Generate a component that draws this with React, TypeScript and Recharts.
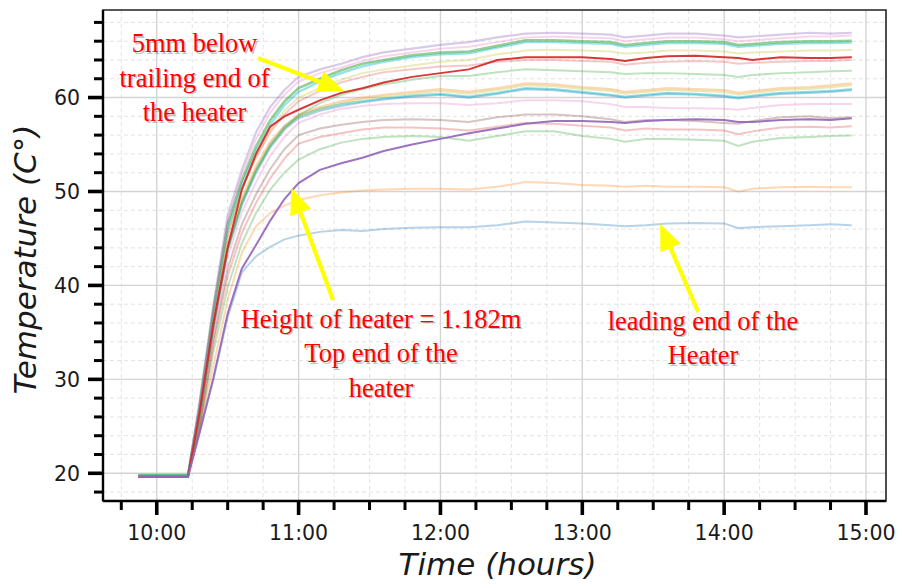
import React from 'react';
import { LineChart, Line, XAxis, YAxis, CartesianGrid, ReferenceLine, ReferenceDot, ReferenceArea } from 'recharts';

// time in decimal hours
const times = [9.87, 10.22, 10.3, 10.4, 10.5, 10.6, 10.7, 10.8, 10.9, 11.0, 11.15, 11.3, 11.45, 11.6, 11.8, 12.0, 12.2, 12.4, 12.6, 12.8, 13.0, 13.2, 13.3, 13.45, 13.6, 13.8, 14.0, 14.1, 14.2, 14.4, 14.6, 14.75, 14.9];

const s01Blue = [19.7, 19.7, 24.2, 30.0, 36.6, 41.4, 43.1, 44.1, 44.9, 45.3, 45.7, 45.9, 45.8, 46.0, 46.15, 46.2, 46.2, 46.4, 46.8, 46.7, 46.6, 46.4, 46.3, 46.4, 46.6, 46.65, 46.6, 46.1, 46.2, 46.3, 46.4, 46.5, 46.4];
const s02Orange = [19.7, 19.7, 24.6, 31.5, 38.5, 43.5, 46.3, 47.7, 48.5, 49.1, 49.6, 49.9, 50.1, 50.2, 50.3, 50.3, 50.2, 50.5, 51.0, 50.9, 50.7, 50.6, 50.5, 50.6, 50.5, 50.5, 50.45, 49.98, 50.3, 50.45, 50.5, 50.45, 50.45];
const s04Green = [19.7, 19.7, 24.5, 33.0, 39.8, 44.5, 47.7, 50.2, 52.0, 53.4, 54.5, 55.2, 55.6, 55.8, 55.9, 55.8, 55.4, 55.9, 56.4, 56.4, 55.9, 55.6, 55.3, 55.6, 55.6, 55.5, 55.4, 54.85, 55.3, 55.7, 55.8, 55.9, 55.95];
const s05Red = [19.7, 19.7, 24.8, 33.8, 41.0, 45.6, 48.8, 51.4, 53.5, 55.1, 55.8, 56.2, 56.6, 56.8, 56.8, 56.7, 56.5, 56.9, 57.3, 57.2, 57.0, 56.8, 56.5, 56.7, 56.6, 56.6, 56.5, 56.1, 56.4, 56.8, 56.9, 56.8, 56.95];
const s06Brown = [19.7, 19.7, 25.0, 34.3, 41.8, 46.5, 49.7, 52.4, 54.5, 56.0, 56.7, 57.1, 57.4, 57.6, 57.7, 57.6, 57.4, 57.9, 58.2, 58.2, 58.0, 57.7, 57.4, 57.6, 57.6, 57.5, 57.3, 57.2, 57.5, 57.9, 58.0, 57.8, 57.9];
const s07Pink = [19.7, 19.7, 25.5, 35.0, 43.0, 47.8, 51.0, 53.8, 55.8, 57.3, 58.2, 58.8, 59.1, 59.3, 59.4, 59.4, 59.2, 59.4, 59.7, 59.7, 59.6, 59.3, 59.0, 59.0, 58.9, 58.85, 58.8, 58.7, 58.9, 59.2, 59.3, 59.3, 59.3];
const s08Blue = [19.7, 19.7, 25.9, 35.6, 43.8, 48.6, 52.0, 54.7, 56.6, 57.8, 58.6, 59.1, 59.5, 59.8, 60.1, 60.3, 60.0, 60.4, 60.9, 60.8, 60.5, 60.2, 60.0, 60.2, 60.4, 60.3, 60.1, 59.9, 60.1, 60.4, 60.5, 60.6, 60.8];
const s09Cyan = [19.8, 19.8, 26.0, 35.8, 44.0, 48.8, 52.3, 55.0, 56.9, 58.0, 58.8, 59.3, 59.6, 59.9, 60.2, 60.4, 60.1, 60.5, 61.0, 60.9, 60.6, 60.3, 60.1, 60.3, 60.5, 60.4, 60.2, 60.0, 60.2, 60.5, 60.6, 60.7, 60.9];
const s10Orange = [19.7, 19.7, 26.2, 36.2, 44.5, 49.3, 52.7, 55.3, 57.0, 58.2, 59.0, 59.6, 60.0, 60.3, 60.6, 60.9, 60.6, 61.0, 61.5, 61.4, 61.1, 60.9, 60.6, 60.8, 61.0, 60.9, 60.8, 60.5, 60.7, 61.0, 61.1, 61.3, 61.5];
const s11Olive = [19.7, 19.7, 26.0, 36.0, 44.2, 49.0, 52.4, 55.0, 56.8, 58.0, 58.8, 59.4, 59.8, 60.1, 60.4, 60.7, 60.4, 60.8, 61.3, 61.2, 60.9, 60.7, 60.4, 60.6, 60.8, 60.7, 60.6, 60.3, 60.5, 60.8, 60.9, 61.1, 61.3];
const s12Green = [19.7, 19.7, 25.8, 35.5, 43.8, 48.8, 52.2, 54.8, 56.7, 58.1, 59.4, 60.3, 60.9, 61.4, 61.9, 62.3, 62.3, 62.7, 63.0, 62.9, 62.8, 62.7, 62.5, 62.6, 62.6, 62.5, 62.4, 62.2, 62.4, 62.6, 62.7, 62.8, 62.85];
const s13Salmon = [19.7, 19.7, 26.5, 36.5, 45.3, 50.3, 53.6, 56.3, 58.2, 59.6, 60.7, 61.6, 62.2, 62.7, 63.0, 63.3, 63.4, 63.8, 64.0, 64.0, 63.9, 63.8, 63.5, 63.7, 63.8, 63.9, 63.8, 63.6, 63.7, 63.8, 63.9, 63.9, 64.0];
const s15Olive = [19.7, 19.7, 26.5, 36.8, 45.5, 50.3, 53.8, 56.5, 58.6, 60.0, 61.0, 61.9, 62.6, 63.0, 63.4, 63.8, 64.0, 64.6, 65.0, 65.1, 65.0, 64.9, 64.7, 64.8, 65.0, 65.0, 64.9, 64.7, 64.8, 64.9, 65.0, 65.0, 65.05];
const s16Cyan = [19.7, 19.7, 26.8, 37.2, 46.0, 50.8, 54.3, 57.1, 59.2, 60.6, 61.7, 62.6, 63.3, 63.8, 64.3, 64.6, 64.7, 65.3, 65.9, 65.9, 65.8, 65.7, 65.4, 65.6, 65.8, 65.8, 65.7, 65.4, 65.5, 65.7, 65.8, 65.8, 65.85];
const s17Green = [19.8, 19.8, 27.0, 37.5, 46.5, 51.2, 54.8, 57.6, 59.6, 61.0, 62.0, 62.9, 63.6, 64.0, 64.5, 64.8, 64.9, 65.5, 66.1, 66.1, 66.0, 65.9, 65.6, 65.8, 66.0, 66.0, 65.9, 65.6, 65.7, 65.9, 66.0, 66.0, 66.05];
const s18Pink = [19.7, 19.7, 27.0, 37.3, 46.8, 51.8, 55.6, 58.4, 60.3, 61.7, 62.6, 63.2, 63.9, 64.4, 64.8, 65.2, 65.4, 65.9, 66.4, 66.5, 66.4, 66.3, 66.0, 66.2, 66.4, 66.4, 66.2, 66.0, 66.1, 66.3, 66.5, 66.5, 66.6];
const s19Purple = [19.7, 19.7, 27.5, 38.0, 47.5, 52.3, 56.3, 59.0, 60.8, 62.2, 63.0, 63.6, 64.3, 64.8, 65.2, 65.6, 65.9, 66.4, 66.8, 66.9, 66.8, 66.7, 66.4, 66.6, 66.8, 66.8, 66.6, 66.4, 66.5, 66.7, 66.9, 66.8, 66.9];
// highlighted: trailing end (red) and top end (purple)
const s14RedBold = [19.6, 19.6, 26.3, 36.0, 44.0, 50.2, 54.0, 56.9, 58.0, 58.7, 59.7, 60.5, 61.0, 61.6, 62.2, 62.6, 63.0, 64.0, 64.3, 64.3, 64.3, 64.1, 63.9, 64.2, 64.4, 64.45, 64.3, 64.2, 64.0, 64.3, 64.2, 64.2, 64.3];
const s03PurpleBold = [19.6, 19.6, 24.2, 30.2, 37.0, 41.8, 44.3, 46.9, 49.2, 50.9, 52.3, 53.0, 53.6, 54.3, 55.0, 55.6, 56.2, 56.7, 57.2, 57.5, 57.5, 57.4, 57.3, 57.5, 57.6, 57.7, 57.6, 57.4, 57.4, 57.6, 57.7, 57.6, 57.8];

const xTicks = [9.75, 10, 10.25, 10.5, 10.75, 11, 11.25, 11.5, 11.75, 12, 12.25, 12.5, 12.75, 13, 13.25, 13.5, 13.75, 14, 14.25, 14.5, 14.75, 15];
const yTicks = [18, 20, 22, 24, 26, 28, 30, 32, 34, 36, 38, 40, 42, 44, 46, 48, 50, 52, 54, 56, 58, 60, 62, 64, 66, 68];
const xMajor = [10, 11, 12, 13, 14, 15];
const yMajor = [20, 30, 40, 50, 60];
const xMinor = xTicks.filter((v) => !xMajor.includes(v));
const yMinor = yTicks.filter((v) => !yMajor.includes(v));

const xDomain = [9.621, 15.141];
const yDomain = [17.05, 69.32];

const series = [
  { key: 's01', values: s01Blue, color: '#1f77b4', op: 0.32, w: 2 },
  { key: 's02', values: s02Orange, color: '#ff7f0e', op: 0.3, w: 2 },
  { key: 's04', values: s04Green, color: '#2ca02c', op: 0.3, w: 2 },
  { key: 's05', values: s05Red, color: '#d62728', op: 0.28, w: 2 },
  { key: 's06', values: s06Brown, color: '#8c564b', op: 0.35, w: 2 },
  { key: 's07', values: s07Pink, color: '#e377c2', op: 0.3, w: 2 },
  { key: 's08', values: s08Blue, color: '#1f77b4', op: 0.35, w: 2.2 },
  { key: 's09', values: s09Cyan, color: '#17becf', op: 0.45, w: 2.2 },
  { key: 's10', values: s10Orange, color: '#ff7f0e', op: 0.32, w: 2.2 },
  { key: 's11', values: s11Olive, color: '#bcbd22', op: 0.32, w: 2 },
  { key: 's12', values: s12Green, color: '#2ca02c', op: 0.3, w: 2 },
  { key: 's13', values: s13Salmon, color: '#d62728', op: 0.25, w: 2 },
  { key: 's15', values: s15Olive, color: '#bcbd22', op: 0.3, w: 2 },
  { key: 's16', values: s16Cyan, color: '#17becf', op: 0.45, w: 2.2 },
  { key: 's17', values: s17Green, color: '#2ca02c', op: 0.5, w: 2.6 },
  { key: 's18', values: s18Pink, color: '#e377c2', op: 0.3, w: 2 },
  { key: 's19', values: s19Purple, color: '#9467bd', op: 0.35, w: 2.2 },
  { key: 's14', values: s14RedBold, color: '#d62728', op: 0.92, w: 2 },
  { key: 's03', values: s03PurpleBold, color: '#9467bd', op: 0.92, w: 2 },
];

const data = times.map((t, i) => {
  const row: Record<string, number> = { t };
  series.forEach((s) => {
    row[s.key] = s.values[i];
  });
  return row;
});

const tickFont = '"DejaVu Sans", Verdana, sans-serif';
const serifFont = '"Liberation Serif", "Times New Roman", serif';

const XTick = (props: any) => {
  const { x, y, payload } = props;
  const v = payload.value;
  const major = Math.abs(v - Math.round(v)) < 1e-6;
  return (
    <g>
      <line x1={x} y1={y} x2={x} y2={y + (major ? 14 : 9)} stroke="#000" strokeWidth={major ? 3.6 : 3} />
      {major && (
        <text x={x} y={y + 39} textAnchor="middle" fontSize={20.5} fontFamily={tickFont} fill="#1a1a1a">
          {`${Math.round(v)}:00`}
        </text>
      )}
    </g>
  );
};

const YTick = (props: any) => {
  const { x, y, payload } = props;
  const v = payload.value;
  const major = v % 10 === 0;
  return (
    <g>
      <line x1={x - (major ? 15 : 9)} y1={y} x2={x} y2={y} stroke="#000" strokeWidth={major ? 3.6 : 3} />
      {major && (
        <text x={x - 23} y={y + 7.5} textAnchor="end" fontSize={20.5} fontFamily={tickFont} fill="#1a1a1a">
          {String(v)}
        </text>
      )}
    </g>
  );
};

const Arrow = (p: any) => {
  const { x1, y1, x2, y2 } = p;
  const dx = x2 - x1;
  const dy = y2 - y1;
  const L = Math.hypot(dx, dy) || 1;
  const ux = dx / L;
  const uy = dy / L;
  const hl = 26;
  const hw = 11;
  const bx = x2 - ux * hl;
  const by = y2 - uy * hl;
  return (
    <g>
      <line x1={x1} y1={y1} x2={bx + ux * 2} y2={by + uy * 2} stroke="#ffff00" strokeWidth={4.2} />
      <polygon
        points={`${x2},${y2} ${bx - uy * hw},${by + ux * hw} ${bx + uy * hw},${by - ux * hw}`}
        fill="#ffff00"
      />
    </g>
  );
};

const makeNote = (lines: string[]) => (p: any) => {
  const { cx, cy } = p;
  return (
    <g>
      {lines.map((l, i) => (
        <g key={i}>
          <text x={cx + 1.5} y={cy + i * 34.5 + 1.5} textAnchor="middle" fontSize={26.5} fontFamily={serifFont} fill="#7a7a7a" fillOpacity={0.45}>
            {l}
          </text>
          <text x={cx} y={cy + i * 34.5} textAnchor="middle" fontSize={26.5} fontFamily={serifFont} fill="#ff0000">
            {l}
          </text>
        </g>
      ))}
    </g>
  );
};

const note1 = ['5mm below', 'trailing end of', 'the heater'];
const note2 = ['Height of heater = 1.182m', 'Top end of the', 'heater'];
const note3 = ['leading end of the', 'Heater'];

export default function App() {
  return (
    <div style={{ position: 'absolute', left: 0, top: 0, width: 902, height: 588, background: '#fff' }}>
      <LineChart width={902} height={588} data={data} margin={{ top: 10, right: 16, bottom: 0, left: 0 }}>
        <CartesianGrid
          verticalValues={xMinor}
          horizontalValues={yMinor}
          stroke="#e3e3e3"
          strokeDasharray="4 3"
          strokeWidth={1}
        />
        <CartesianGrid verticalValues={xMajor} horizontalValues={yMajor} stroke="#d4d4d4" strokeWidth={1.4} />
        <XAxis
          dataKey="t"
          type="number"
          domain={xDomain}
          ticks={xTicks}
          allowDataOverflow
          height={87}
          tickSize={0}
          tickMargin={0}
          tick={<XTick />}
          tickLine={false}
          axisLine={{ stroke: '#000', strokeWidth: 2.4 }}
          interval={0}
          label={{
            content: (lp: any) => {
              const vb = lp.viewBox || { x: 103, y: 501, width: 783, height: 87 };
              return (
                <text x={vb.x + vb.width / 2 + 3} y={vb.y + 74} textAnchor="middle" fontSize={31} fontStyle="italic" fontFamily={tickFont} fill="#1a1a1a">
                  Time (hours)
                </text>
              );
            },
          }}
        />
        <YAxis
          type="number"
          domain={yDomain}
          ticks={yTicks}
          allowDataOverflow
          width={103}
          tickSize={0}
          tickMargin={0}
          tick={<YTick />}
          tickLine={false}
          axisLine={{ stroke: '#000', strokeWidth: 2.4 }}
          interval={0}
          label={{
            content: (lp: any) => {
              const vb = lp.viewBox || { x: 0, y: 10, width: 103, height: 491 };
              const cx = vb.x + 36;
              const cy = vb.y + vb.height / 2 + 4;
              return (
                <text x={cx} y={cy} transform={`rotate(-90 ${cx} ${cy})`} textAnchor="middle" fontSize={31} fontStyle="italic" fontFamily={tickFont} fill="#1a1a1a">
                  Temperature (C°)
                </text>
              );
            },
          }}
        />
        <ReferenceArea x1={xDomain[0]} x2={xDomain[1]} y1={yDomain[0]} y2={yDomain[1]} fill="none" stroke="#222" strokeWidth={1.6} fillOpacity={0} />
        {series.map((s) => (
          <Line
            key={s.key}
            dataKey={s.key}
            type="linear"
            stroke={s.color}
            strokeOpacity={s.op}
            strokeWidth={s.w}
            dot={false}
            activeDot={false}
            isAnimationActive={false}
          />
        ))}
        <ReferenceLine segment={[{ x: 10.714, y: 64.2 }, { x: 11.32, y: 60.69 }]} shape={Arrow} ifOverflow="visible" />
        <ReferenceLine segment={[{ x: 11.243, y: 38.45 }, { x: 10.95, y: 50.37 }]} shape={Arrow} ifOverflow="visible" />
        <ReferenceLine segment={[{ x: 13.817, y: 37.17 }, { x: 13.549, y: 46.54 }]} shape={Arrow} ifOverflow="visible" />
        <ReferenceDot x={10.2665} y={64.84} r={0} shape={makeNote(note1)} ifOverflow="visible" />
        <ReferenceDot x={11.581} y={35.47} r={0} shape={makeNote(note2)} ifOverflow="visible" />
        <ReferenceDot x={13.851} y={35.26} r={0} shape={makeNote(note3)} ifOverflow="visible" />
      </LineChart>
    </div>
  );
}
